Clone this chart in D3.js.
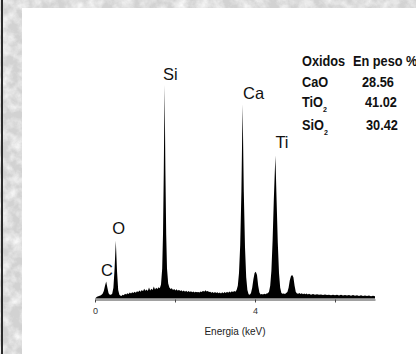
<!DOCTYPE html>
<meta charset="utf-8" />
<style>
  body { margin: 0; }
  svg { display: block; font-family: "Liberation Sans", Arial, sans-serif; }
</style>
<svg width="416" height="354"></svg>
<script src="https://d3js.org/d3.v7.min.js"></script>
<script>
  // EDS spectrum: [energy keV, counts (Si peak = 100)]
  var spectrum = [
    [0.00, 0], [0.05, 0.8], [0.10, 1.2], [0.15, 1.5], [0.19, 2.2], [0.22, 3.5], [0.25, 6], [0.28, 8],
    [0.31, 5], [0.34, 2.5], [0.37, 1.8], [0.40, 1.7], [0.43, 2.2], [0.46, 5], [0.49, 14], [0.52, 27],
    [0.55, 13], [0.58, 4], [0.61, 1.8], [0.64, 1.3], [0.66, 1.2], [0.69, 1.8], [0.72, 1.5],
    [0.75, 2.2], [0.78, 1.9], [0.81, 2.5], [0.84, 2.1], [0.87, 2.8], [0.90, 2.3], [0.93, 2.9],
    [0.96, 2.6], [0.99, 3.2], [1.02, 2.7], [1.05, 3.4], [1.08, 3.0], [1.11, 3.8], [1.14, 3.2],
    [1.17, 4.0], [1.20, 3.4], [1.23, 4.6], [1.26, 3.6], [1.29, 4.2], [1.32, 3.5], [1.35, 5.2],
    [1.38, 3.8], [1.41, 4.6], [1.44, 4.0], [1.47, 5.6], [1.50, 4.2], [1.53, 5.0], [1.56, 4.4],
    [1.59, 5.3], [1.62, 4.8], [1.65, 6.5], [1.68, 14], [1.70, 30], [1.72, 60], [1.74, 100],
    [1.76, 60], [1.78, 30], [1.80, 14], [1.83, 7], [1.86, 5.2], [1.89, 4.4], [1.92, 4.8],
    [1.95, 4.0], [1.98, 4.5], [2.01, 3.8], [2.04, 4.3], [2.07, 3.6], [2.10, 4.1], [2.13, 3.5],
    [2.16, 3.9], [2.19, 3.3], [2.22, 3.8], [2.25, 3.2], [2.28, 3.6], [2.31, 3.1], [2.34, 3.5],
    [2.37, 3.0], [2.40, 3.4], [2.43, 2.9], [2.46, 3.3], [2.49, 2.8], [2.52, 3.2], [2.55, 2.9],
    [2.58, 3.1], [2.61, 2.8], [2.64, 3.3], [2.67, 3.0], [2.70, 3.6], [2.73, 3.2], [2.76, 3.9],
    [2.79, 3.3], [2.82, 3.5], [2.85, 3.0], [2.88, 3.2], [2.91, 2.7], [2.94, 3.1], [2.97, 2.6],
    [3.00, 3.0], [3.03, 2.6], [3.06, 2.9], [3.09, 2.5], [3.12, 2.8], [3.15, 2.4], [3.18, 2.9],
    [3.21, 2.5], [3.24, 3.0], [3.27, 2.6], [3.30, 3.2], [3.33, 2.7], [3.36, 3.3], [3.39, 2.8],
    [3.42, 3.4], [3.45, 3.0], [3.48, 3.5], [3.51, 3.2], [3.54, 4.0], [3.57, 6], [3.60, 12],
    [3.63, 25], [3.66, 50], [3.69, 91], [3.72, 50], [3.75, 24], [3.78, 10], [3.81, 4],
    [3.84, 2.0], [3.87, 1.8], [3.90, 2.6], [3.93, 5], [3.96, 9], [3.99, 12], [4.02, 12.5],
    [4.05, 11], [4.08, 6], [4.11, 2.8], [4.14, 1.9], [4.17, 2.1], [4.20, 1.9], [4.23, 2.2],
    [4.26, 2.0], [4.29, 2.3], [4.32, 2.5], [4.35, 3.2], [4.38, 6], [4.41, 13], [4.44, 27],
    [4.47, 46], [4.51, 67], [4.54, 46], [4.57, 26], [4.60, 12], [4.63, 5], [4.66, 2.6],
    [4.69, 2.2], [4.72, 2.4], [4.75, 2.1], [4.78, 2.6], [4.81, 3.0], [4.84, 5], [4.87, 8.5],
    [4.90, 10.5], [4.93, 11], [4.96, 10], [4.99, 6], [5.02, 3], [5.05, 2.4], [5.08, 2.2],
    [5.11, 2.6], [5.14, 2.1], [5.17, 2.5], [5.20, 2.0], [5.23, 2.4], [5.26, 2.0], [5.29, 2.3],
    [5.32, 1.9], [5.35, 2.2], [5.40, 1.8], [5.45, 2.1], [5.50, 1.7], [5.55, 2.0], [5.60, 1.7],
    [5.65, 1.9], [5.70, 1.6], [5.75, 1.9], [5.80, 1.6], [5.85, 1.8], [5.90, 1.5], [5.95, 1.8],
    [6.00, 1.5], [6.05, 1.7], [6.10, 1.4], [6.15, 1.7], [6.20, 1.4], [6.25, 1.6], [6.30, 1.4],
    [6.35, 1.6], [6.40, 1.3], [6.45, 1.6], [6.50, 1.3], [6.55, 1.5], [6.60, 1.2], [6.65, 1.5],
    [6.70, 1.2], [6.75, 1.4], [6.80, 1.2], [6.85, 1.4], [6.90, 1.1], [6.95, 1.3], [7.00, 1.1]
  ];

  // peak labels: element, energy of label, label height in counts
  var peakNames = ["C", "O", "Si", "Ca", "Ti"];
  var peakLabelE = [0.15, 0.43, 1.70, 3.70, 4.51];
  var peakLabelC = [10.5, 30, 102.5, 93.5, 70.5];

  // oxide table
  var oxides = ["CaO", "TiO", "SiO"];
  var oxideSub = ["", "2", "2"];
  var weights = ["28.56", "41.02", "30.42"];

  var tickValues = [0, 2, 4, 6];
  var tickLabels = { 0: "0", 4: "4" };

  var svg = d3.select("svg");
  var width = +svg.attr("width");
  var height = +svg.attr("height");

  // marble frame
  var defs = svg.append("defs");
  var filt = defs.append("filter").attr("id", "marble").attr("x", 0).attr("y", 0)
    .attr("width", "100%").attr("height", "100%");
  filt.append("feTurbulence").attr("type", "fractalNoise")
    .attr("baseFrequency", "0.09").attr("numOctaves", 4).attr("seed", 7);
  filt.append("feColorMatrix").attr("type", "matrix")
    .attr("values", "0 0 0 0 1  0 0 0 0 1  0 0 0 0 1  1.6 0 0 0 -0.55");

  svg.append("rect").attr("width", width).attr("height", height).attr("fill", "#d2d2d2");
  svg.append("rect").attr("width", width).attr("height", height).attr("filter", "url(#marble)");
  svg.append("rect").attr("x", 1).attr("y", 0).attr("width", 2).attr("height", height).attr("fill", "#2a2a2a");
  svg.append("rect").attr("x", 22).attr("y", 8).attr("width", width - 22).attr("height", height - 8)
    .attr("fill", "#fff");

  var x = d3.scaleLinear().domain([0, 7]).range([95, 375]);
  var y = d3.scaleLinear().domain([0, 100]).range([298.5, 85]);

  var area = d3.area()
    .x(function(d) { return x(d[0]); })
    .y0(y(0))
    .y1(function(d) { return y(d[1]); });

  svg.append("path")
    .datum(spectrum)
    .attr("d", area)
    .attr("fill", "#000");

  var axis = d3.axisBottom(x)
    .tickValues(tickValues)
    .tickSize(3)
    .tickSizeOuter(0)
    .tickFormat(function(d) { return tickLabels[d] || ""; });

  var gx = svg.append("g")
    .attr("transform", "translate(0," + 299.5 + ")")
    .call(axis);
  gx.select(".domain").attr("stroke", "#444");
  gx.selectAll(".tick line").attr("stroke", "#444");
  gx.selectAll(".tick text")
    .attr("font-family", "Liberation Sans, Arial, sans-serif")
    .attr("font-size", 9)
    .attr("fill", "#333")
    .attr("dy", "0.95em");

  svg.append("text")
    .attr("x", 235)
    .attr("y", 335)
    .attr("text-anchor", "middle")
    .attr("font-size", 10)
    .attr("fill", "#222")
    .text("Energia (keV)");

  // peak labels
  svg.append("g")
    .selectAll("text")
    .data(peakNames)
    .enter()
    .append("text")
    .attr("x", function(d, i) { return x(peakLabelE[i]); })
    .attr("y", function(d, i) { return y(peakLabelC[i]); })
    .attr("font-size", 16.5)
    .attr("fill", "#111")
    .text(function(d) { return d; });

  // table (narrowed bold text)
  var table = svg.append("g")
    .attr("font-weight", "bold")
    .attr("font-size", 14.5)
    .attr("fill", "#111");

  function place(px, py) {
    return "translate(" + px + "," + py + ") scale(0.88,1)";
  }

  table.append("text").attr("transform", place(302, 66)).text("Oxidos");
  table.append("text").attr("transform", place(353, 66)).text("En peso %");

  var rowY = [87, 107, 130];
  var valX = [362, 365, 366];

  var rows = table.selectAll("g.row")
    .data(oxides)
    .enter()
    .append("g")
    .attr("class", "row");

  var names = rows.append("text")
    .attr("transform", function(d, i) { return place(302, rowY[i]); });
  names.append("tspan").text(function(d) { return d; });
  names.append("tspan")
    .attr("font-size", 8)
    .attr("dy", 5)
    .text(function(d, i) { return oxideSub[i]; });

  rows.append("text")
    .attr("transform", function(d, i) { return place(valX[i], rowY[i]); })
    .text(function(d, i) { return weights[i]; });
</script>
